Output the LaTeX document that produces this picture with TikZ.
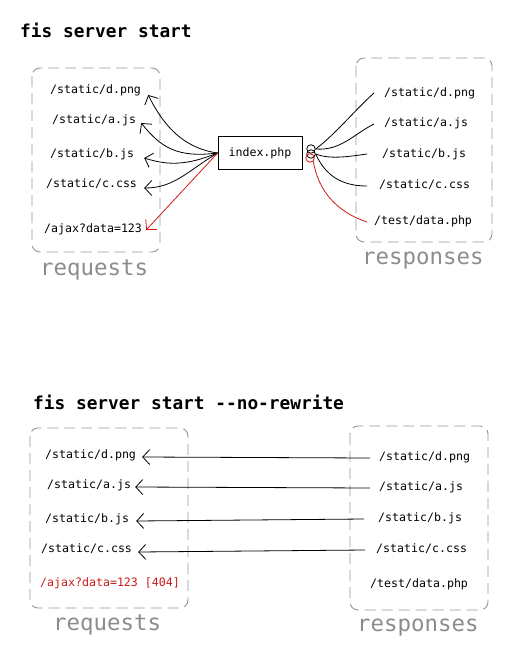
\documentclass[tikz,border=0pt]{standalone}
\usepackage{fontspec}
\setmainfont{DejaVu Sans Mono}
\setmonofont{DejaVu Sans Mono}
\usetikzlibrary{arrows.meta}
\definecolor{boxgray}{RGB}{150,150,150}
\definecolor{lblgray}{RGB}{140,140,140}
\definecolor{linkred}{RGB}{205,25,25}
\begin{document}
\begin{tikzpicture}[x=1pt,y=-1pt,
  lbl/.style={font=\fontsize{11.6}{13}\selectfont, inner sep=1pt, anchor=west},
  ttl/.style={font=\fontsize{17.8}{20}\selectfont\bfseries, anchor=west, inner sep=0pt},
  grp/.style={font=\fontsize{22.4}{25}\selectfont, text=lblgray, anchor=west, inner sep=0pt},
  grpbox/.style={draw=boxgray, dash pattern=on 11pt off 6pt, rounded corners=8pt, line width=0.9pt},
  arr/.style={-{Straight Barb[length=7pt,width=15pt]}, line width=0.8pt},
  ln/.style={line width=0.8pt},
  knob/.style={circle, draw, line width=0.8pt, inner sep=0pt, minimum size=8.5pt}]
\useasboundingbox (0,0) rectangle (517,653);

% ---------------- top ----------------
\node[ttl] (t1) at (20,30) {fis server start};
\draw[grpbox] (32,68) rectangle (160,252);
\draw[grpbox] (356,58) rectangle (492,242);
\node[grp] (rq1) at (40,270) {requests};
\node[grp] (rs1) at (362,261) {responses};

\node[lbl] (r1) at (49,90) {/static/d.png};
\node[lbl] (r2) at (51,120) {/static/a.js};
\node[lbl] (r3) at (49,154) {/static/b.js};
\node[lbl] (r4) at (45,184) {/static/c.css};
\node[lbl] (r5) at (43,229) {/ajax?data=123};

\node[lbl] (s1) at (383,93) {/static/d.png};
\node[lbl] (s2) at (383,123) {/static/a.js};
\node[lbl] (s3) at (381,154) {/static/b.js};
\node[lbl] (s4) at (378,185) {/static/c.css};
\node[lbl] (s5) at (373,221) {/test/data.php};

\node[draw, line width=0.8pt, minimum width=84pt, minimum height=33pt,
      font=\fontsize{11.6}{13}\selectfont] (idx) at (260,153) {index.php};
\node[knob] (k1) at (311,149) {};
\node[knob] (k2) at (311,154) {};
\node[knob, draw=linkred] (k3) at (310,158) {};

\draw[arr] (idx.west) .. controls +(-35,-5) and +(15,30) .. ([shift={(6,5)}]r1.east);
\draw[arr] (idx.west) .. controls +(-40,5) and +(20,25) .. ([shift={(4,3)}]r2.east);
\draw[arr] (idx.west) .. controls +(-30,12) and +(25,8) .. ([shift={(9,4)}]r3.east);
\draw[arr] (idx.west) .. controls +(-30,18) and +(30,0) .. ([shift={(6,4)}]r4.east);
\draw[arr, draw=linkred] (idx.west) -- ([shift={(3,1)}]r5.east);

\draw[ln] (k1.east) .. controls +(20,-15) and +(-20,18) .. ([shift={(-9,0)}]s1.west);
\draw[ln] (k1.east) .. controls +(25,2) and +(-20,10) .. ([shift={(-9,1)}]s2.west);
\draw[ln] (k2.east) .. controls +(15,6) and +(-15,2) .. ([shift={(-14,0)}]s3.west);
\draw[ln] (k2.east) .. controls +(10,22) and +(-25,0) .. ([shift={(-11,1)}]s4.west);
\draw[ln, draw=linkred] (k3.south east) .. controls +(5,30) and +(-30,-10) .. ([shift={(-6,1)}]s5.west);

% ---------------- bottom ----------------
\node[ttl] (t2) at (33,402) {fis server start -{}-no-rewrite};
\draw[grpbox] (30,428) rectangle (188,608);
\draw[grpbox] (350,426) rectangle (488,610);
\node[grp] (rq2) at (53,625) {requests};
\node[grp] (rs2) at (357,628) {responses};

\node[lbl] (b1) at (44,455) {/static/d.png};
\node[lbl] (b2) at (46,485) {/static/a.js};
\node[lbl] (b3) at (44,519) {/static/b.js};
\node[lbl] (b4) at (40,549) {/static/c.css};
\node[lbl, text=linkred] (b5) at (39,583) {/ajax?data=123 [404]};

\node[lbl] (u1) at (378,457) {/static/d.png};
\node[lbl] (u2) at (378,487) {/static/a.js};
\node[lbl] (u3) at (377,518) {/static/b.js};
\node[lbl] (u4) at (375,549) {/static/c.css};
\node[lbl] (u5) at (369,584) {/test/data.php};

\draw[arr] ([shift={(-8,1)}]u1.west) -- ([shift={(5,2)}]b1.east);
\draw[arr] ([shift={(-8,1)}]u2.west) -- ([shift={(3,2)}]b2.east);
\draw[arr] ([shift={(-13,1)}]u3.west) -- ([shift={(6,2)}]b3.east);
\draw[arr] ([shift={(-10,1)}]u4.west) -- ([shift={(5,3)}]b4.east);
\end{tikzpicture}
\end{document}
